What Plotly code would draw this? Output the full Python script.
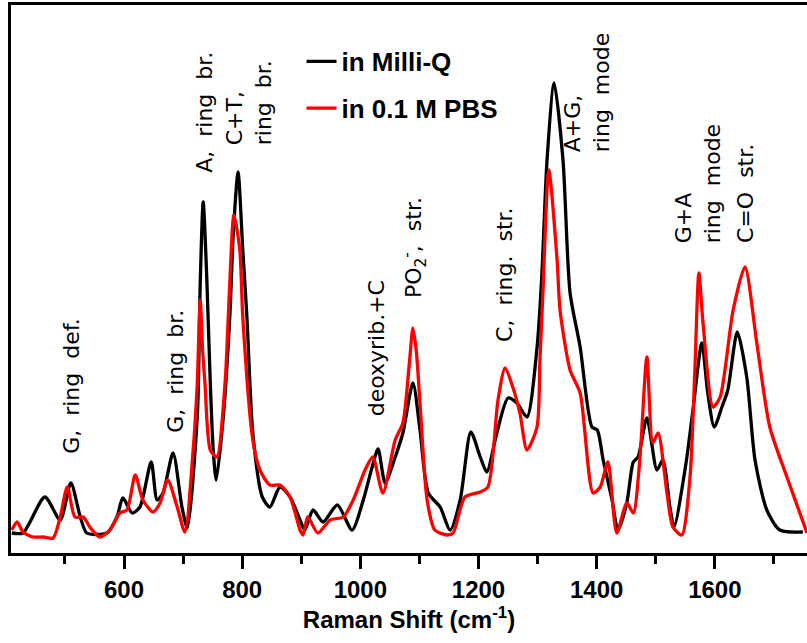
import plotly.graph_objects as go

# ---- data (wavenumber in cm^-1, intensity in arbitrary units) ----
milliq_x = [410, 429, 466, 492, 510, 526, 537, 571, 588, 598, 614, 627, 646, 656, 666, 683, 698, 707,
            724, 729, 734, 740, 746, 751, 756, 768, 779, 785, 793, 801, 808, 818, 834, 847, 864, 881,
            898, 906, 920, 937, 961, 986, 1005, 1020, 1030, 1042, 1059, 1072, 1089, 1101, 1115, 1135,
            1152, 1169, 1187, 1203, 1214, 1231, 1250, 1265, 1282, 1299, 1307, 1316, 1328, 1343, 1355,
            1372, 1392, 1401, 1411, 1426, 1436, 1451, 1462, 1470, 1485, 1502, 1512, 1524, 1531, 1550,
            1563, 1578, 1588, 1599, 1612, 1622, 1638, 1654, 1668, 1688, 1710, 1749]
milliq_y = [20, 20, 56, 33, 70, 36, 20, 20, 36, 55, 40, 46, 91, 53, 60, 100, 46, 25,
            136, 270, 351, 276, 170, 103, 73, 136, 236, 320, 381, 303, 236, 120, 56, 46, 66, 56,
            33, 23, 43, 31, 48, 23, 53, 86, 104, 70, 96, 120, 170, 123, 60, 46,
            23, 53, 121, 96, 81, 120, 155, 150, 136, 205, 276, 393, 470, 393, 260,
            206, 126, 123, 93, 53, 23, 50, 91, 96, 135, 83, 93, 46, 26, 85,
            143, 210, 160, 126, 146, 163, 221, 176, 93, 43, 23, 21]

pbs_x = [410, 419, 429, 446, 463, 480, 492, 504, 517, 531, 542, 559, 576, 593, 605, 619, 632, 649,
         661, 674, 690, 703, 717, 724, 729, 733, 737, 746, 757, 771, 779, 786, 796, 801, 818, 830,
         847, 864, 881, 898, 903, 911, 928, 949, 971, 988, 1008, 1021, 1038, 1059, 1072, 1083, 1089,
         1095, 1101, 1113, 1126, 1147, 1157, 1177, 1203, 1216, 1233, 1245, 1258, 1270, 1282, 1299,
         1304, 1309, 1319, 1333, 1338, 1355, 1372, 1394, 1406, 1419, 1434, 1451, 1462, 1473, 1485,
         1495, 1504, 1519, 1529, 1544, 1558, 1566, 1573, 1580, 1597, 1609, 1631, 1651, 1671, 1693,
         1722, 1756]
pbs_y = [23, 31, 21, 16, 16, 15, 36, 66, 36, 36, 26, 16, 23, 40, 43, 78, 53, 41,
         50, 73, 46, 21, 103, 170, 253, 203, 170, 103, 96, 170, 270, 338, 303, 236, 113, 83,
         68, 68, 56, 23, 18, 36, 20, 33, 36, 53, 83, 96, 60, 113, 130, 190, 225,
         200, 150, 53, 23, 18, 20, 56, 61, 66, 153, 185, 166, 140, 103, 126,
         193, 260, 383, 293, 243, 183, 160, 60, 66, 91, 20, 50, 40, 93, 196,
         110, 120, 60, 26, 18, 76, 180, 280, 230, 146, 156, 243, 286, 210, 126,
         76, 20]

series_names = ["in Milli-Q", "in 0.1 M PBS"]
series_colors = ["#000000", "#ff0000"]

band_labels = ["G,  ring  def.", "G,  ring  br.", "A,  ring  br.", "C+T,<br>ring  br.",
               "deoxyrib.+C", "PO<sub>2</sub><sup>-</sup>,  str.", "C,  ring.  str.",
               "A+G,<br>ring  mode", "G+A<br>ring  mode", "C=O  str."]
band_x = [510, 686, 735, 812, 1027, 1091, 1243, 1384, 1572, 1651]
band_y = [167, 182, 441, 450, 205, 305, 279, 460, 369, 360]

narrow = "Liberation Sans Narrow, Arial Narrow, Liberation Sans, Arial"

fig = go.Figure()
for xs, ys, name, col in [(milliq_x, milliq_y, series_names[0], series_colors[0]),
                          (pbs_x, pbs_y, series_names[1], series_colors[1])]:
    fig.add_trace(go.Scatter(x=xs, y=ys, mode="lines", name=name, legendgroup=name,
                             line=dict(color=col, width=3.3, shape="spline", smoothing=0.7)))

for t, bx, by in zip(band_labels, band_x, band_y):
    fig.add_annotation(x=bx, y=by, xref="x", yref="y", text=t, textangle=-90,
                       showarrow=False, align="left",
                       font=dict(family="DejaVu Sans", size=22, color="black"))

fig.update_layout(
    width=807, height=643,
    margin=dict(l=11, r=0, t=5, b=90),
    paper_bgcolor="white", plot_bgcolor="white",
    showlegend=True,
    legend=dict(x=0.365, y=0.94, xanchor="left", yanchor="top",
                bgcolor="rgba(0,0,0,0)", tracegroupgap=10,
                font=dict(family=narrow, size=26, color="black", weight="bold")),
    xaxis=dict(range=[408.7, 1756], showline=True, linewidth=3, linecolor="black",
               mirror=True, showgrid=False, zeroline=False,
               tick0=0, dtick=200, ticks="outside", ticklen=13, tickwidth=3, tickcolor="black",
               minor=dict(dtick=100, ticks="outside", ticklen=8, tickwidth=3, tickcolor="black"),
               tickfont=dict(family=narrow, size=24, color="black", weight="bold"),
               title=dict(text="Raman Shift (cm<sup>-1</sup>)", standoff=8,
                          font=dict(family=narrow, size=24, color="black", weight="bold"))),
    yaxis=dict(range=[0, 548], showline=True, linewidth=3, linecolor="black", mirror=False,
               showgrid=False, zeroline=False, showticklabels=False, ticks=""),
)

fig.write_html("out.html")
